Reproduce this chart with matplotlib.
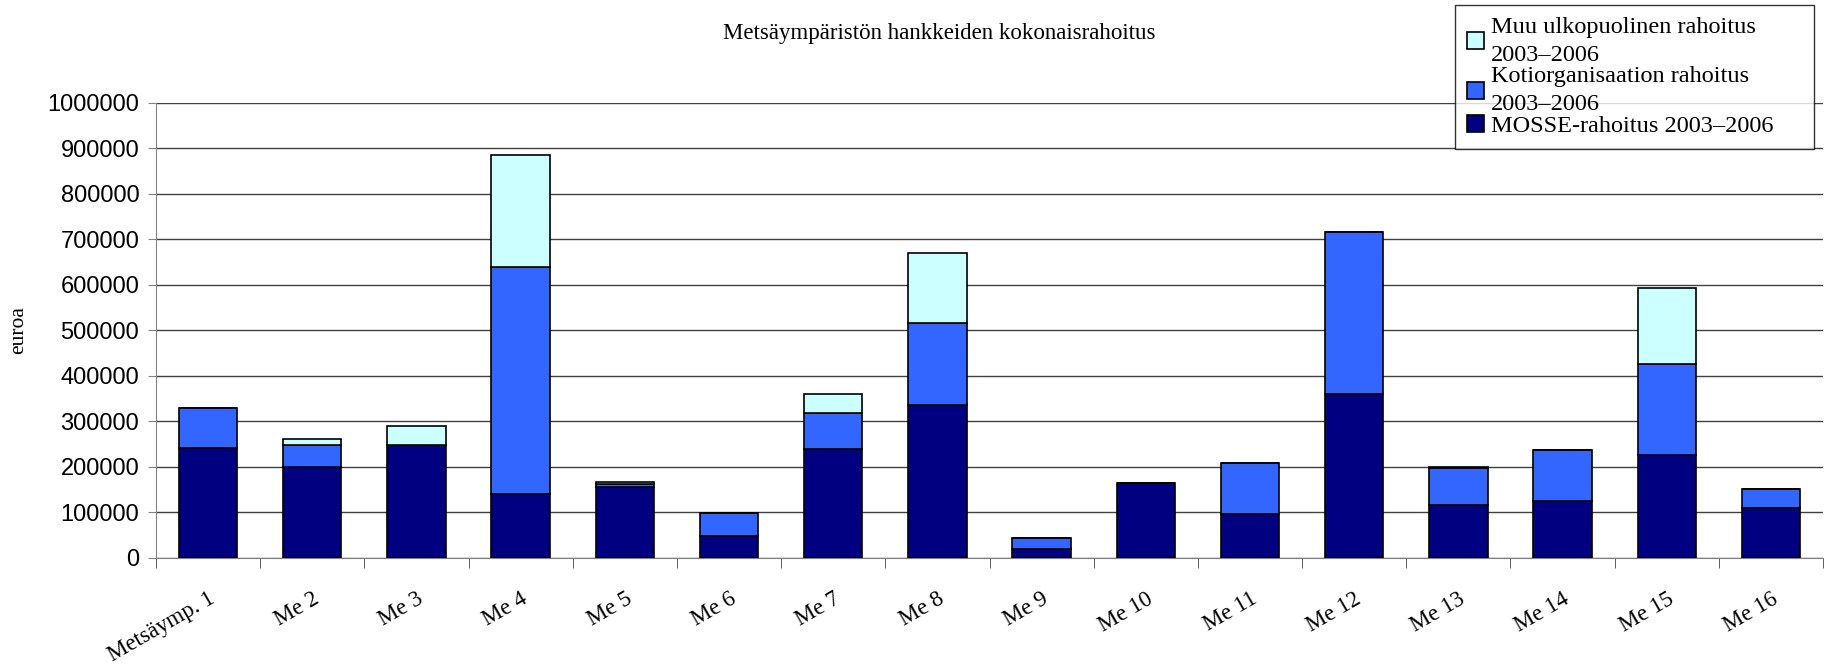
import numpy as np
import matplotlib
matplotlib.use("Agg")
import matplotlib.pyplot as plt

# Category labels and series values (euros)
categories = ["Metsäymp. 1", "Me 2", "Me 3", "Me 4", "Me 5", "Me 6", "Me 7", "Me 8",
              "Me 9", "Me 10", "Me 11", "Me 12", "Me 13", "Me 14", "Me 15", "Me 16"]
mosse = [242000, 200000, 249000, 141000, 155000, 47000, 239000, 336000,
         20000, 165000, 97000, 359000, 117000, 124000, 225000, 110000]
koti = [88000, 48000, 0, 499000, 8000, 51000, 79000, 180000,
        24000, 0, 111000, 358000, 81000, 114000, 201000, 41000]
muu = [0, 14000, 40000, 245000, 4000, 0, 41000, 154000,
       0, 0, 0, 0, 2000, 0, 167000, 0]

labels = ["MOSSE-rahoitus 2003–2006",
          "Kotiorganisaation rahoitus\n2003–2006",
          "Muu ulkopuolinen rahoitus\n2003–2006"]
colors = ["#000080", "#3366FF", "#CCFFFF"]

serif = ["Liberation Serif", "DejaVu Serif"]
sans = ["Liberation Sans", "DejaVu Sans"]

fig = plt.figure(figsize=(18.35, 6.68), dpi=100)
ax = fig.add_axes([0.085, 0.165, 0.9085, 0.681])

x = np.arange(len(categories))
bottom = np.zeros(len(categories))
handles = []
for vals, col, lab in zip([mosse, koti, muu], colors, labels):
    b = ax.bar(x, vals, width=0.56, bottom=bottom, color=col,
               edgecolor="black", linewidth=1.2, label=lab, zorder=3)
    handles.append(b)
    bottom += np.array(vals)

ax.set_xlim(-0.5, len(categories) - 0.5)
ax.set_ylim(0, 1000000)
ax.set_yticks(np.arange(0, 1000001, 100000))
ax.set_yticklabels([str(v) for v in range(0, 1000001, 100000)],
                   fontsize=17, family=sans)
ax.yaxis.grid(True, color="#404040", linewidth=1, zorder=0)

ax.set_xticks(x)
ax.set_xticklabels(categories, fontsize=16.5, family=serif, rotation=30,
                   ha="right", rotation_mode="anchor")
ax.set_xticks(np.arange(-0.5, len(categories), 1), minor=True)
ax.tick_params(axis="x", which="major", length=0, pad=22)
ax.tick_params(axis="x", which="minor", length=7, color="#404040", direction="out")
ax.tick_params(axis="y", length=6, color="#808080", pad=6)

for s in ["top", "right"]:
    ax.spines[s].set_visible(False)
ax.spines["left"].set_color("#808080")
ax.spines["bottom"].set_color("#808080")

ax.set_ylabel("euroa", fontsize=15.5, family=serif, labelpad=14)

fig.text(0.512, 0.95, "Metsäympäristön hankkeiden kokonaisrahoitus",
         ha="center", va="center", fontsize=16.5, family=serif)

# legend stretched to the width of the original box
leg = fig.legend(handles[::-1], labels[::-1], loc="upper left",
                 bbox_to_anchor=(0.7928, 0.6, 0.1958, 0.393), mode="expand",
                 frameon=True, fancybox=False,
                 edgecolor="black", prop={"family": serif, "size": 17.5},
                 handlelength=0.7, handleheight=0.7, handletextpad=0.3,
                 labelspacing=0.0, borderpad=0.5, borderaxespad=0)
leg.get_frame().set_linewidth(1)
for t in leg.get_texts():
    t.set_linespacing(1.45)

fig.savefig("out.png", dpi=100)
